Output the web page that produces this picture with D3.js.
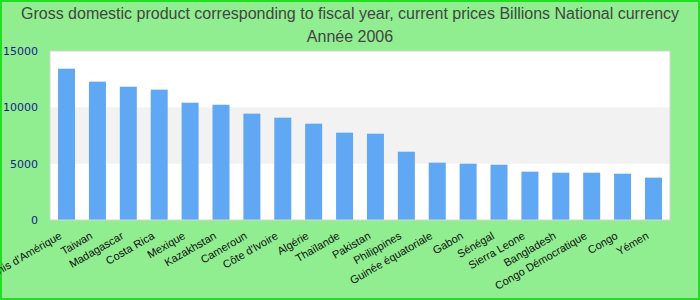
<!DOCTYPE html>
<html><head><meta charset="utf-8">
<script src="https://cdn.jsdelivr.net/npm/d3@7"></script>
<style>html,body{margin:0;padding:0;background:#90ee90;}svg{display:block;}</style>
</head><body>
<svg id="c" width="700" height="300"></svg>
<script>
const categories = ["États-Unis d'Amérique","Taiwan","Madagascar","Costa Rica","Mexique","Kazakhstan","Cameroun","Côte d'Ivoire","Algérie","Thaïlande","Pakistan","Philippines","Guinée équatoriale","Gabon","Sénégal","Sierra Leone","Bangladesh","Congo Démocratique","Congo","Yémen"];
const values = [13430,12280,11830,11570,10410,10230,9440,9080,8550,7750,7660,6060,5090,5000,4910,4290,4200,4200,4110,3760];
const yTicks = [0,5000,10000,15000];
const titleLines = ["Gross domestic product corresponding to fiscal year, current prices Billions National currency","Année 2006"];

const svg = d3.select("#c");
const W=700,H=300;
const m={l:50,r:30,t:51,b:80};
svg.append("rect").attr("x",1).attr("y",1).attr("width",W-2).attr("height",H-2).attr("fill","#90ee90").attr("stroke","#22dd22").attr("stroke-width",2);

const x=d3.scaleBand().domain(categories).range([m.l,W-m.r]).paddingInner(0.45).paddingOuter(0.26);
const y=d3.scaleLinear().domain([0,15000]).range([H-m.b,m.t]);

const g=svg.append("g");
g.append("rect").attr("x",m.l).attr("y",m.t).attr("width",W-m.r-m.l).attr("height",H-m.b-m.t).attr("fill","#fff");
g.append("rect").attr("x",m.l).attr("y",y(10000)).attr("width",W-m.r-m.l).attr("height",y(5000)-y(10000)).attr("fill","#f2f2f2");

g.selectAll(".bar").data(values).join("rect").attr("class","bar")
 .attr("x",(d,i)=>x(categories[i])).attr("width",x.bandwidth())
 .attr("y",d=>y(d)).attr("height",d=>y(0)-y(d)).attr("fill","#60a8f4");

g.append("rect").attr("x",m.l).attr("y",m.t).attr("width",W-m.r-m.l).attr("height",H-m.b-m.t).attr("fill","none").attr("stroke","#d4d4d4").attr("stroke-width",1);

const ya=svg.append("g").attr("transform",`translate(${m.l},0)`).call(d3.axisLeft(y).tickValues(yTicks).tickSize(0).tickPadding(12).tickFormat(d3.format("d")));
ya.select(".domain").remove();
ya.selectAll("text").attr("font-family","DejaVu Sans").attr("font-size",11).attr("fill","#1a1a8c");

const xa=svg.append("g").attr("transform",`translate(0,${H-m.b})`).call(d3.axisBottom(x).tickSize(0).tickPadding(0));
xa.select(".domain").remove();
xa.selectAll("text").attr("font-family","Liberation Sans, Arial").attr("font-size",11).attr("fill","#111")
 .attr("text-anchor","end").attr("dy",0)
 .attr("transform","translate(-4,18) rotate(-30)");

svg.selectAll(".title").data(titleLines).join("text").attr("class","title")
 .attr("x",W/2).attr("y",(d,i)=>19+i*23).attr("text-anchor","middle")
 .attr("font-family","Liberation Sans, Arial").attr("font-size",16).attr("fill","#444").text(d=>d);
</script>
</body></html>
